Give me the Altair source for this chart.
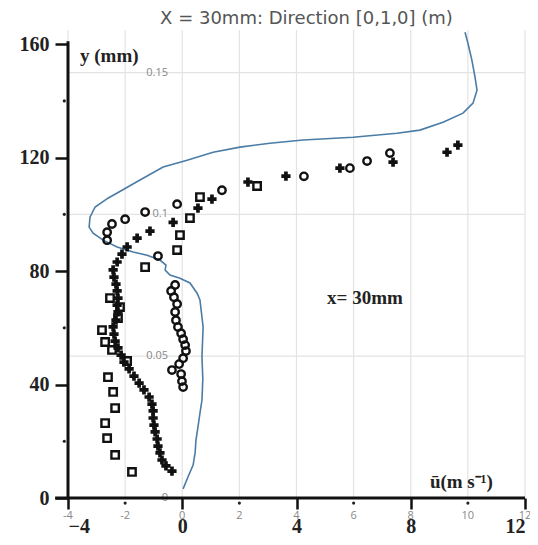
import altair as alt
import pandas as pd

# ---- CFD simulated profile (u in m/s, y in mm) ----
cfd_u = [0.03, 0.20, 0.38, 0.45, 0.48, 0.55, 0.62, 0.69, 0.72, 0.69, 0.73, 0.62, 0.52, 0.27, -0.08, -0.43, -0.60,
         -0.57, -0.78, -1.23, -1.72, -2.28, -2.77, -3.12, -3.26, -3.23, -3.05, -2.60, -1.48, -0.67, 0.17,
         1.08, 2.02, 3.07, 4.23, 5.98, 7.52, 8.32, 9.13, 9.83, 10.18, 10.32, 10.25, 10.14, 10.00, 9.90]
cfd_y = [3.2, 7.4, 11.6, 15.9, 20.4, 25.0, 29.9, 34.5, 42.0, 49.7, 60.3, 69.8, 72.2, 75.8, 77.5, 78.6, 80.4,
         82.1, 83.9, 85.6, 86.7, 88.5, 90.9, 93.4, 95.5, 99.0, 102.6, 105.7, 112.1, 116.7, 119.1,
         121.9, 123.7, 125.1, 126.2, 127.2, 128.6, 129.7, 132.5, 135.7, 139.2, 143.8, 148.4, 154.4, 160.4, 164.2]

# ---- measured profiles ----
circ_u = [-2.63, -2.63, -2.46, -2.00, -1.30, -0.18, 1.39, 4.26, 5.87, 6.47, 7.27, -0.85,
          -0.25, -0.39, -0.29, -0.18, -0.25, -0.22, -0.15, -0.04, 0.03, 0.10, 0.13, 0.03, -0.11,
          -0.36, -0.04, -0.01, 0.03]
circ_y = [90.9, 93.7, 96.6, 98.3, 100.8, 103.6, 108.5, 113.4, 116.3, 118.8, 121.6, 85.3,
          75.1, 73.0, 70.8, 68.4, 65.6, 62.7, 60.3, 58.1, 56.0, 53.9, 51.8, 49.3, 47.2,
          45.1, 43.7, 41.2, 39.1]

sq_u = [2.62, 0.62, 0.27, -0.08, -0.18, -1.30, -2.53, -2.18, -2.25, -2.81, -2.70, -2.46, -1.93,
        -2.60, -2.42, -2.35, -2.70, -2.63, -2.35, -1.76]
sq_y = [110.0, 106.1, 98.7, 92.7, 87.4, 81.4, 70.5, 67.3, 63.4, 59.2, 55.0, 52.2, 48.3,
        42.6, 37.4, 31.7, 26.4, 21.1, 15.2, 9.2]

pl_u = [9.65, 9.27, 7.38, 5.52, 3.63, 2.30, 1.04, 0.55, -0.32, -1.13, -1.58,
        -1.93, -2.11, -2.28, -2.42, -2.39, -2.32, -2.28, -2.25, -2.28, -2.25,
        -2.32, -2.42, -2.39, -2.35, -2.25, -2.14, -2.04, -1.86, -1.69, -1.51,
        -1.34, -1.16, -1.06, -1.02, -1.02, -0.99, -0.95, -0.88, -0.85, -0.78,
        -0.71, -0.57, -0.36]
pl_y = [124.4, 121.9, 118.4, 116.3, 113.5, 111.4, 105.4, 102.2, 97.2, 94.1, 91.6,
        88.5, 86.0, 83.2, 80.4, 77.9, 75.4, 73.0, 70.5, 68.0, 65.6,
        62.7, 60.3, 57.8, 55.3, 52.9, 50.4, 47.9, 45.5, 43.0, 40.5,
        38.1, 35.6, 33.1, 30.7, 28.2, 25.7, 23.3, 20.8, 18.3, 15.9,
        13.4, 11.3, 9.5]

# ---- axes / tick labels ----
paper_x_ticks = [-4, 0, 4, 8, 12]
paper_y_ticks = [0, 40, 80, 120, 160]
minor_x = [-2, 2, 6, 10]
minor_y = [20, 60, 100, 140]
grid_x = [-4, -2, 0, 2, 4, 6, 8, 10, 12]
grid_y = [50, 100, 150]
cfd_x_labels = ["-4", "-2", "0", "2", "4", "6", "8", "10", "12"]
cfd_y_vals = [0, 50, 100, 150]
cfd_y_labels = ["0", "0.05", "0.1", "0.15"]

TITLE = "X = 30mm: Direction [0,1,0] (m)"

W, H = 457, 468
xs = alt.Scale(domain=[-4, 12], nice=False, zero=False)
ys = alt.Scale(domain=[0, 165], nice=False, zero=False)

SERIF = "Liberation Serif"
ax_x = alt.Axis(values=paper_x_ticks, title=None, grid=False, domain=False,
                tickSize=11, tickWidth=2.5, tickColor="#111",
                labelFont=SERIF, labelFontSize=20, labelFontWeight="bold",
                labelColor="#222", labelPadding=7)
ax_y = alt.Axis(values=paper_y_ticks, title=None, grid=False, domain=False,
                tickSize=13, tickWidth=2.5, tickColor="#111",
                labelFont=SERIF, labelFontSize=20, labelFontWeight="bold",
                labelColor="#222", labelPadding=6)

X = lambda f: alt.X(f, type="quantitative", scale=xs, axis=ax_x)
Y = lambda f: alt.Y(f, type="quantitative", scale=ys, axis=ax_y)

gx = pd.DataFrame({"g": grid_x})
gy = pd.DataFrame({"g": grid_y})
vgrid = alt.Chart(gx).mark_rule(color="#e3e3e3", strokeWidth=1.2).encode(
    x=X("g"), y=alt.value(0), y2=alt.value(H))
hgrid = alt.Chart(gy).mark_rule(color="#e3e3e3", strokeWidth=1.2).encode(
    y=Y("g"), x=alt.value(0), x2=alt.value(W))

axis_lines = pd.DataFrame({"x": [-4.0, -4.45], "x2": [-4.0, 12.0], "y": [0.0, 0.0], "y2": [161.0, 0.0]})
axlines = alt.Chart(axis_lines).mark_rule(color="#111", strokeWidth=3).encode(
    x=X("x"), x2="x2", y=Y("y"), y2="y2")

mdx = pd.DataFrame({"x": minor_x, "y": [-1.8] * len(minor_x)})
mdy = pd.DataFrame({"x": [-4.13] * len(minor_y), "y": minor_y})
mdots = alt.layer(
    alt.Chart(mdx).mark_circle(color="#222", size=10, opacity=1).encode(x=X("x"), y=Y("y")),
    alt.Chart(mdy).mark_circle(color="#222", size=10, opacity=1).encode(x=X("x"), y=Y("y")),
)

cfd = pd.DataFrame({"u": cfd_u, "y": cfd_y, "i": list(range(len(cfd_u)))})
line = alt.Chart(cfd).mark_line(color="#4a7ca6", strokeWidth=1.6).encode(
    x=X("u"), y=Y("y"), order="i")

circ = alt.Chart(pd.DataFrame({"u": circ_u, "y": circ_y})).mark_point(
    shape="circle", filled=False, color="#111", size=55, strokeWidth=2.4, opacity=1).encode(
    x=X("u"), y=Y("y"))
sq = alt.Chart(pd.DataFrame({"u": sq_u, "y": sq_y})).mark_point(
    shape="square", filled=False, color="#111", size=55, strokeWidth=2.4, opacity=1).encode(
    x=X("u"), y=Y("y"))
pl = alt.Chart(pd.DataFrame({"u": pl_u, "y": pl_y})).mark_point(
    shape="cross", filled=True, color="#111", size=85, opacity=1).encode(
    x=X("u"), y=Y("y"))

# CFD tick labels (small gray)
cxl = pd.DataFrame({"x": grid_x, "y": [-6.2] * len(grid_x), "t": cfd_x_labels})
cfd_xlab = alt.Chart(cxl).mark_text(font="Open Sans", fontSize=11, color="#888",
                                    align="center", baseline="middle").encode(
    x=X("x"), y=Y("y"), text="t")
cyl = pd.DataFrame({"x": [-0.5] * len(cfd_y_vals), "y": cfd_y_vals, "t": cfd_y_labels})
cfd_ylab = alt.Chart(cyl).mark_text(font="Open Sans", fontSize=11, color="#888",
                                    align="right", baseline="middle").encode(
    x=X("x"), y=Y("y"), text="t")

ann = pd.DataFrame({"x": [-3.58, 5.07, 8.67], "y": [155.8, 70.5, 5.6],
                    "t": ["y (mm)", "x= 30mm", "ū(m s⁻¹)"]})
annot = alt.Chart(ann).mark_text(font=SERIF, fontSize=19, fontWeight="bold", color="#222",
                                 align="left", baseline="middle").encode(
    x=X("x"), y=Y("y"), text="t")

chart = alt.layer(vgrid, hgrid, line, circ, sq, pl, cfd_xlab, cfd_ylab, annot, axlines, mdots).properties(
    width=W, height=H,
    title=alt.TitleParams(TITLE, font="DejaVu Sans", fontSize=18, fontWeight="normal",
                          color="#555", anchor="middle", offset=1, dx=10),
    autosize=alt.AutoSizeParams(type="none"),
    padding={"left": 60, "top": 22, "right": 5, "bottom": 39},
).configure_view(stroke=None)

chart.save("out.html", embed_options={"renderer": "svg", "actions": False})
